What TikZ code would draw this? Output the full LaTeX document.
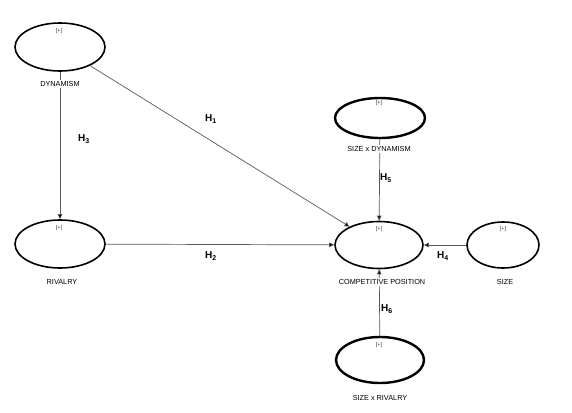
\documentclass[tikz,border=0pt]{standalone}
\usepackage{fontspec}
\setmainfont{Liberation Sans}
\usetikzlibrary{arrows.meta,shapes.geometric}
\begin{document}
\begin{tikzpicture}[x=1pt,y=-1pt,
  lv/.style={ellipse,draw=black,line width=1.6pt,minimum width=90pt,minimum height=48pt,inner sep=0pt},
  lvint/.style={lv,line width=2.4pt},
  plus/.style={font=\fontsize{5.5}{6}\selectfont,text=black!80},
  lab/.style={font=\fontsize{7.3}{8}\selectfont,fill=white,inner sep=1pt},
  hyp/.style={font=\fontsize{10}{11}\selectfont\bfseries},
  pth/.style={draw=black!65,line width=0.7pt,-{Triangle[length=5pt,width=4.5pt,fill=black]}}]
\useasboundingbox (0,0) rectangle (572,412);
% latent variables
\node[lv] (dyn) at (60,47) {};
\node[lv] (riv) at (60,244) {};
\node[lv,minimum width=88pt,minimum height=47pt] (cp) at (379,245) {};
\node[lv,minimum width=72pt,minimum height=46pt] (size) at (503,245) {};
\node[lvint,minimum height=40pt] (sxd) at (380,118) {};
\node[lvint,minimum width=88pt,minimum height=46pt] (sxr) at (380,360) {};
% paths
\draw[pth] (dyn) -- (cp);
\draw[pth] (riv) -- (cp);
\draw[pth] (size) -- (cp);
\draw[pth] (dyn) -- (riv);
\draw[pth] (sxd) -- (cp);
\draw[pth] (sxr) -- (cp);
% plus markers
\node[plus] (p1) at (59,31) {[+]};
\node[plus] (p2) at (59,228) {[+]};
\node[plus] (p3) at (379,229) {[+]};
\node[plus] (p4) at (503,229) {[+]};
\node[plus] (p5) at (379,103) {[+]};
\node[plus] (p6) at (379,345) {[+]};
% labels
\node[lab] (l1) at (60,84) {DYNAMISM};
\node[lab] (l2) at (62,282) {RIVALRY};
\node[lab] (l3) at (382,282) {COMPETITIVE POSITION};
\node[lab] (l4) at (505,282) {SIZE};
\node[lab] (l5) at (379,149) {SIZE x DYNAMISM};
\node[lab] (l6) at (380,398) {SIZE x RIVALRY};
% hypotheses
\node[hyp] (h1) at (211,119) {H\textsubscript{1}};
\node[hyp] (h2) at (211,256) {H\textsubscript{2}};
\node[hyp] (h3) at (84,139) {H\textsubscript{3}};
\node[hyp] (h4) at (443,256) {H\textsubscript{4}};
\node[hyp] (h5) at (386,178) {H\textsubscript{5}};
\node[hyp] (h6) at (387,309) {H\textsubscript{6}};
\end{tikzpicture}
\end{document}
